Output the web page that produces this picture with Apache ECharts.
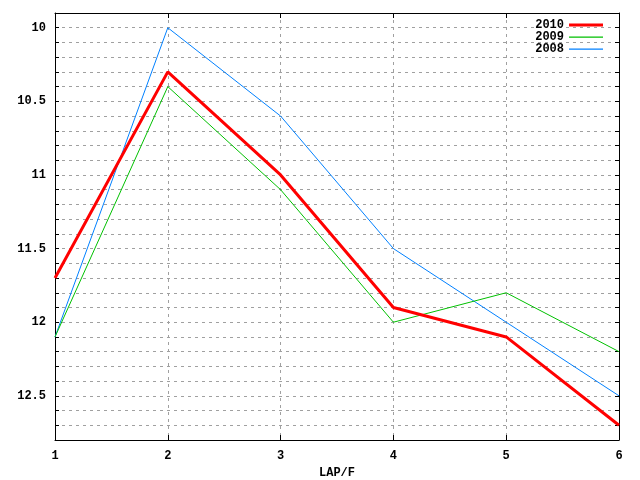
<!DOCTYPE html>
<html>
<head>
<meta charset="utf-8">
<script src="https://cdn.jsdelivr.net/npm/echarts@6/dist/echarts.min.js"></script>
<style>html,body{margin:0;padding:0;background:#fff}#c{width:640px;height:480px}</style>
</head>
<body>
<div id="c"></div>
<script>
var laps = [1, 2, 3, 4, 5, 6];
var s2010 = [11.7, 10.3, 11.0, 11.9, 12.1, 12.7];
var s2009 = [12.1, 10.4, 11.1, 12.0, 11.8, 12.2];
var s2008 = [12.1, 10.0, 10.6, 11.5, 12.0, 12.5];
var seriesNames = ['2010', '2009', '2008'];
var xName = 'LAP/F';

function pairs(arr) { return laps.map(function (x, i) { return [x, arr[i]]; }); }

var font = 'Liberation Mono';
var fs = 12;
var thick = 'path://M0,0H34V0.01H0Z M0,4.5H34V7.5H0Z M0,12H34V12.01H0Z';
var thin = 'path://M0,0H34V0.01H0Z M0,5.5H34V6.7H0Z M0,12H34V12.01H0Z';
var chart = echarts.init(document.getElementById('c'), null, {renderer: 'canvas'});
var yBase = {
  type: 'value', min: 9.9, max: 12.8, interval: 0.1, inverse: true,
  axisLine: {show: true, lineStyle: {color: '#000', width: 1}},
  axisTick: {show: true, inside: true, length: 4, lineStyle: {color: '#000'}}
};
chart.setOption({
  animation: false,
  grid: {left: 55, right: 21, top: 13, bottom: 40, containLabel: false, outerBoundsMode: 'none'},
  legend: {
    orient: 'vertical', right: 32, top: 14, align: 'right',
    itemWidth: 34, itemHeight: 12, itemGap: 0,
    textStyle: {fontFamily: font, fontWeight: 'bold', fontSize: fs, color: '#000'},
    data: [
      {name: seriesNames[0], icon: thick},
      {name: seriesNames[1], icon: thin},
      {name: seriesNames[2], icon: thin}
    ]
  },
  xAxis: [{
    type: 'value', min: 1, max: 6, interval: 1, position: 'bottom',
    name: xName, nameLocation: 'middle', nameGap: 27,
    nameTextStyle: {fontFamily: font, fontWeight: 'bold', fontSize: fs, color: '#000'},
    axisLine: {show: true, lineStyle: {color: '#000', width: 1}},
    axisTick: {show: true, inside: true, length: 5, lineStyle: {color: '#000'}},
    axisLabel: {margin: 10, fontFamily: font, fontWeight: 'bold', fontSize: fs, color: '#000'},
    splitLine: {show: true, lineStyle: {color: '#a0a0a0', type: [3, 4], width: 1}}
  }, {
    type: 'value', min: 1, max: 6, interval: 1, position: 'top',
    axisLine: {show: true, lineStyle: {color: '#000', width: 1}},
    axisTick: {show: true, inside: true, length: 5, lineStyle: {color: '#000'}},
    axisLabel: {show: false}, splitLine: {show: false}
  }],
  yAxis: [Object.assign({}, yBase, {
    position: 'left',
    axisLabel: {
      margin: 9, fontFamily: font, fontWeight: 'bold', fontSize: fs, color: '#000',
      formatter: function (v) {
        var d = v * 2;
        if (Math.abs(d - Math.round(d)) < 1e-6) return String(Math.round(d) / 2);
        return '';
      }
    },
    splitLine: {show: true, lineStyle: {color: '#a0a0a0', type: [3, 4], width: 1}}
  }), Object.assign({}, yBase, {
    position: 'right', axisLabel: {show: false}, splitLine: {show: false}
  })],
  series: [
    {name: seriesNames[0], type: 'line', data: pairs(s2010), symbol: 'none',
     lineStyle: {color: '#ff0000', width: 3}, itemStyle: {color: '#ff0000'}, z: 5},
    {name: seriesNames[1], type: 'line', data: pairs(s2009), symbol: 'none',
     lineStyle: {color: '#00c000', width: 1}, itemStyle: {color: '#00c000'}, z: 4},
    {name: seriesNames[2], type: 'line', data: pairs(s2008), symbol: 'none',
     lineStyle: {color: '#0080ff', width: 1}, itemStyle: {color: '#0080ff'}, z: 3}
  ]
});
</script>
</body>
</html>
